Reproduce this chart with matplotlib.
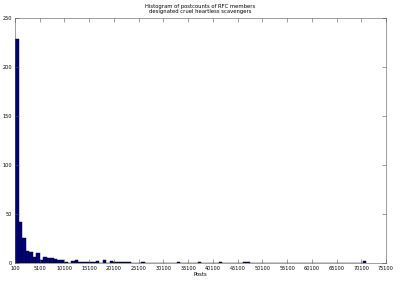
import numpy as np
import matplotlib
matplotlib.use("Agg")
import matplotlib.pyplot as plt

bin_min = 100
bin_max = 71100
n_bins = 100
counts = [229, 42, 26, 13, 12, 6, 10, 3, 6, 5, 5, 4, 3, 3, 1, 0, 2, 3, 1, 1,
          1, 1, 1, 2, 0, 3, 0, 2, 1, 1, 1, 1, 1, 0, 0, 0, 1, 0, 0, 0,
          0, 0, 0, 0, 0, 0, 1, 0, 0, 0, 0, 0, 1, 0, 0, 0, 0, 0, 1, 0,
          0, 0, 0, 0, 0, 1, 1, 0, 0, 0, 0, 0, 0, 0, 0, 0, 0, 0, 0, 0,
          0, 0, 0, 0, 0, 0, 0, 0, 0, 0, 0, 0, 0, 0, 0, 0, 0, 0, 0, 2]
xticks = list(range(100, 75101, 5000))
yticks = [0, 50, 100, 150, 200, 250]
title = "Histogram of postcounts of RFC members\ndesignated cruel heartless scavengers"
xlabel = "Posts"

edges = np.linspace(bin_min, bin_max, n_bins + 1)

fig = plt.figure(figsize=(4.0, 2.81), dpi=100)
ax = fig.add_axes([0.0375, 0.063, 0.9275, 0.872])
ax.bar(edges[:-1], counts, width=np.diff(edges), align="edge",
       facecolor="#000080", edgecolor="black", linewidth=0.3)

ax.set_xlim(100, 75100)
ax.set_ylim(0, 250)
ax.set_xticks(xticks)
ax.set_xticklabels([str(t) for t in xticks])
ax.set_yticks(yticks)
ax.tick_params(direction="in", length=3, width=0.4, labelsize=3.6,
               top=True, right=True, pad=2, colors="#555555", labelcolor="black")
for s in ax.spines.values():
    s.set_linewidth(0.4)
    s.set_color("#555555")
fig.text(0.5, 0.967, title, ha="center", va="center", fontsize=3.8,
         linespacing=1.1)
ax.set_xlabel(xlabel, fontsize=3.8, labelpad=1)
fig.savefig("out.png", dpi=100)
